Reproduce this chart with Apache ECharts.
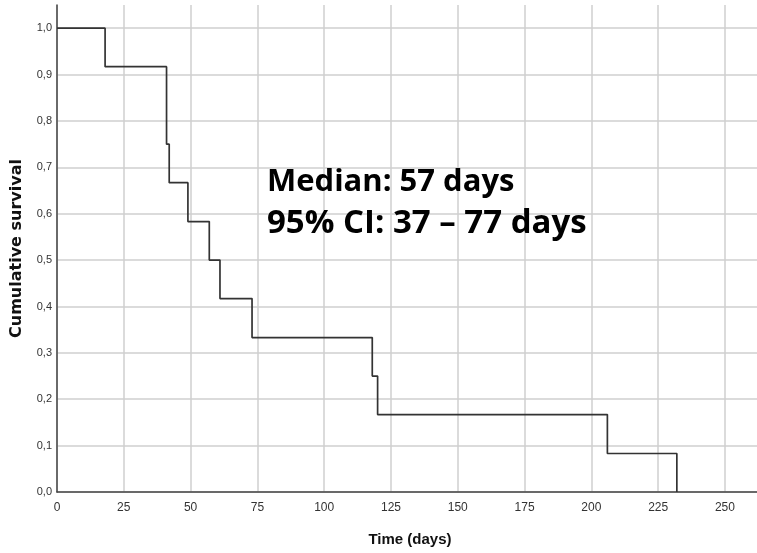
<!DOCTYPE html>
<html><head><meta charset="utf-8">
<script src="https://cdn.jsdelivr.net/npm/echarts@6/dist/echarts.min.js"></script>
<style>html,body{margin:0;padding:0;background:#fff}#c{width:757px;height:553px}</style>
</head><body><div id="c"></div>
<script>
const times = [0, 18, 41, 42, 49, 57, 61, 73, 118, 120, 206, 232];
const survival = [1.0, 0.917, 0.75, 0.667, 0.583, 0.5, 0.417, 0.333, 0.25, 0.167, 0.083, 0.0];
const xTicks = [0, 25, 50, 75, 100, 125, 150, 175, 200, 225, 250];
const yTicks = [0.0, 0.1, 0.2, 0.3, 0.4, 0.5, 0.6, 0.7, 0.8, 0.9, 1.0];
const annotationLine1 = 'Median: 57 days';
const annotationLine2 = '95% CI: 37 \u2013 77 days';

const chart = echarts.init(document.getElementById('c'), null, {renderer: 'canvas'});
chart.setOption({
  animation: false,
  grid: {left: 57, right: 0, top: 5, bottom: 61},
  xAxis: {
    type: 'value', min: 0, max: 262, interval: 25,
    name: 'Time (days)', nameLocation: 'middle', nameGap: 40,
    nameTextStyle: {fontFamily: 'Liberation Sans Narrow, Liberation Sans, Arial', fontSize: 15, fontWeight: 'bold', color: '#111', padding: [0, 0, 0, 6]},
    axisLine: {show: true, onZero: false, lineStyle: {color: '#444', width: 1.5}},
    axisTick: {show: false},
    axisLabel: {margin: 10, showMaxLabel: false, fontFamily: 'Liberation Sans Narrow, Liberation Sans, Arial', fontSize: 12, color: '#333',
      formatter: v => xTicks.includes(v) ? String(v) : ''},
    splitLine: {show: true, showMaxLine: false, lineStyle: {color: '#cfcfcf', width: 1.5}}
  },
  yAxis: {
    type: 'value', min: 0, max: 1.05, interval: 0.1,
    name: 'Cumulative survival', nameLocation: 'middle', nameGap: 32, nameRotate: 90,
    nameTextStyle: {fontFamily: 'DejaVu Sans, Liberation Sans, Arial', fontSize: 16, fontWeight: 'bold', color: '#111'},
    axisLine: {show: true, onZero: false, lineStyle: {color: '#444', width: 1.5}},
    axisTick: {show: false},
    axisLabel: {margin: 5, showMaxLabel: false, fontFamily: 'Liberation Sans, Arial', fontSize: 11, color: '#333', padding: [7, 0, 0, 0],
      formatter: v => {
        const r = Math.round(v * 10) / 10;
        return yTicks.some(t => Math.abs(t - r) < 1e-9) && Math.abs(v - r) < 1e-6 ? r.toFixed(1).replace('.', ',') : '';
      }},
    splitLine: {show: true, showMaxLine: false, lineStyle: {color: '#cfcfcf', width: 1.5}}
  },
  series: [{
    type: 'line', step: 'end', symbol: 'none',
    data: times.map((t, i) => [t, survival[i]]),
    lineStyle: {color: '#333', width: 1.7}
  }],
  graphic: [{
    type: 'text', left: 267, top: 167, z: 100,
    style: {text: annotationLine1, font: 'bold 31px "Open Sans", Lato, sans-serif', fill: '#000', lineHeight: 31}
  }, {
    type: 'text', left: 267, top: 207, z: 100,
    style: {text: annotationLine2, font: 'bold 33px "Open Sans", Lato, sans-serif', fill: '#000', lineHeight: 33}
  }]
});
</script>
</body></html>
